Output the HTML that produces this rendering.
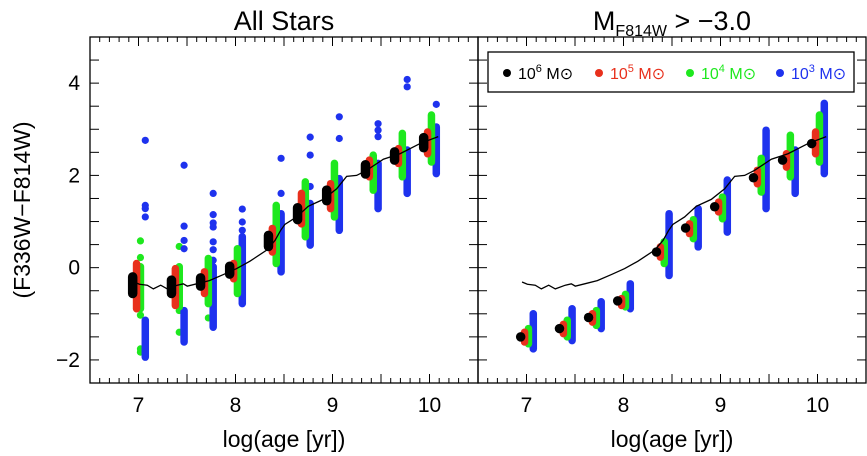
<!DOCTYPE html>
<html><head><meta charset="utf-8"><style>
body{margin:0;background:#fff}
svg{display:block;font-family:"Liberation Sans","DejaVu Sans",sans-serif}
</style></head><body>
<svg id="chart" width="867" height="456" viewBox="0 0 867 456"></svg>
<script>
const ages=[7.0,7.4,7.7,8.0,8.4,8.7,9.0,9.4,9.7,10.0];
const massLabels=["6","5","4","3"];
const massColors=["#000000","#e8301c","#1ee81e","#1e32ee"];
const massOffsets=[-0.06,-0.02,0.02,0.07];
// left panel (All Stars): min/max per mass, per age
const L_black_max=[-0.20,-0.27,-0.22,0.03,0.70,1.30,1.68,2.23,2.51,2.82];
const L_black_min=[-0.56,-0.56,-0.40,-0.14,0.46,1.04,1.45,2.03,2.33,2.60];
const L_red_max=[0.09,-0.02,-0.09,0.09,0.85,1.61,1.82,2.33,2.58,2.94];
const L_red_min=[-0.89,-0.82,-0.56,-0.24,0.34,0.95,1.28,1.97,2.26,2.47];
const L_green_max=[0.02,0.02,0.20,0.41,1.35,1.86,2.26,2.44,2.91,3.31];
const L_green_min=[-0.89,-0.85,-0.78,-0.56,0.09,0.67,1.10,1.68,1.97,2.29];
const L_blue_max=[-1.14,-0.93,0.02,0.67,1.17,1.39,1.93,2.26,2.55,3.05];
const L_blue_min=[-1.94,-1.61,-1.29,-0.78,-0.09,0.49,0.81,1.28,1.61,2.04];
const L_green_out_age=[7.0,7.0,7.0,7.0,7.0,7.4,7.4,7.4,7.7];
const L_green_out_val=[0.58,0.22,-1.03,-1.76,-1.83,0.46,-0.93,-1.40,-1.09];
const L_blue_out_age=[7.0,7.0,7.0,7.0,7.4,7.4,7.4,7.4,7.7,7.7,7.7,7.7,7.7,7.7,7.7,8.0,8.0,8.0,8.4,8.4,8.7,8.7,8.7,9.0,9.0,9.4,9.4,9.4,9.7,9.7,10.0];
const L_blue_out_val=[2.76,1.35,1.28,1.10,2.22,0.90,0.59,0.41,1.61,1.15,0.97,0.88,0.56,0.39,0.16,1.27,0.99,0.81,2.37,1.61,2.83,2.44,1.76,3.27,2.80,3.12,2.98,2.84,4.08,3.92,3.54];
// right panel (M_F814W > -3.0)
const R_black_max=[-1.50,-1.32,-1.08,-0.72,0.34,0.86,1.32,1.95,2.33,2.69];
const R_black_min=[-1.50,-1.32,-1.08,-0.72,0.34,0.86,1.32,1.95,2.33,2.69];
const R_red_max=[-1.40,-1.23,-1.00,-0.67,0.45,0.95,1.42,2.11,2.47,2.94];
const R_red_min=[-1.61,-1.43,-1.18,-0.82,0.23,0.74,1.21,1.82,2.18,2.47];
const R_green_max=[-1.32,-1.14,-0.93,-0.58,0.56,1.04,1.53,2.37,2.87,3.31];
const R_green_min=[-1.65,-1.50,-1.25,-0.85,0.09,0.63,1.06,1.64,1.97,2.29];
const R_blue_max=[-1.00,-0.89,-0.74,-0.35,1.17,1.28,1.90,2.98,2.55,3.56];
const R_blue_min=[-1.76,-1.58,-1.32,-0.89,-0.17,0.45,0.77,1.28,1.61,2.04];
// model line
const lineAge=[6.954,7.009,7.09,7.153,7.229,7.297,7.4,7.462,7.503,7.6,7.73,7.875,8.012,8.149,8.321,8.407,8.466,8.51,8.63,8.75,8.905,9.043,9.146,9.249,9.352,9.524,9.696,9.902,10.09];
const lineVal=[-0.31,-0.36,-0.38,-0.46,-0.38,-0.46,-0.38,-0.35,-0.40,-0.35,-0.28,-0.15,-0.02,0.14,0.38,0.59,0.81,0.94,1.10,1.33,1.48,1.71,1.98,2.00,2.11,2.35,2.47,2.69,2.84];
const xTicks=[7,8,9,10];
const yTicks=[-2,0,2,4];

const NS="http://www.w3.org/2000/svg";
const svg=document.getElementById('chart');
function mk(tag,attrs,parent){const e=document.createElementNS(NS,tag);for(const k in attrs)e.setAttribute(k,attrs[k]);(parent||svg).appendChild(e);return e;}
const TOP=37,BOT=383,W=388;
const yS=v=>TOP+(5-v)*(BOT-TOP)/7.5;
function panel(x0,name,sets,outs,title){
  const xS=a=>x0+(a-6.5)*W/4;
  const g=mk('g',{});
  
  
  // ticks
  for(let i=0;i<=40;i++){const a=6.5+i*0.1;const big=Math.abs(a*2-Math.round(a*2))<1e-6;const L=big?9:5;const X=xS(a);
    mk('line',{x1:X,y1:BOT,x2:X,y2:BOT-L,stroke:'#000','stroke-width':1},g);
    mk('line',{x1:X,y1:TOP,x2:X,y2:TOP+L,stroke:'#000','stroke-width':1},g);}
  for(let i=0;i<=15;i++){const v=-2.5+i*0.5;const Y=yS(v);
    mk('line',{x1:x0,y1:Y,x2:x0+9,y2:Y,stroke:'#000'},g);
    mk('line',{x1:x0+W,y1:Y,x2:x0+W-9,y2:Y,stroke:'#000'},g);}
  xTicks.forEach(t=>{const e=mk('text',{x:xS(t),y:412,'font-size':21,'text-anchor':'middle'},g);e.textContent=t;
    });
  const xt=mk('text',{x:x0+W/2,y:447,'font-size':23,'text-anchor':'middle'},g);xt.textContent='log(age [yr])';
  
  // outliers (drawn under)
  outs.forEach(o=>{o.ages.forEach((a,i)=>{const c=mk('circle',{cx:xS(a+massOffsets[o.m]),cy:yS(o.vals[i]),r:3.6,fill:massColors[o.m]},g);
    });});
  // cluster capsules: blue, green, red, black order
  for(let m=3;m>=0;m--){const s=sets[m];const w=m===0?9.5:7.5;
    ages.forEach((a,i)=>{const X=xS(a+massOffsets[m]);
      const l=mk('line',{x1:X,x2:X,y1:yS(s.max[i]),y2:yS(s.min[i])+0.01,stroke:massColors[m],'stroke-width':w,'stroke-linecap':'round'},g);
      });}
  const pts=lineAge.map((a,i)=>xS(a)+','+yS(lineVal[i])).join(' ');
  const pl=mk('polyline',{points:pts,fill:'none',stroke:'#000','stroke-width':1.3},g);
  
  const fr=mk('rect',{x:x0,y:TOP,width:W,height:BOT-TOP,fill:'none',stroke:'#000','stroke-width':1.3},g);
  
  return xS;
}
panel(90,'left-panel',[
 {max:L_black_max,min:L_black_min},{max:L_red_max,min:L_red_min},{max:L_green_max,min:L_green_min},{max:L_blue_max,min:L_blue_min}],
 [{m:2,ages:L_green_out_age,vals:L_green_out_val},{m:3,ages:L_blue_out_age,vals:L_blue_out_val}]);
panel(478,'right-panel',[
 {max:R_black_max,min:R_black_min},{max:R_red_max,min:R_red_min},{max:R_green_max,min:R_green_min},{max:R_blue_max,min:R_blue_min}],[]);
yTicks.forEach(t=>{const e=mk('text',{x:80,y:yS(t)+7,'font-size':21,'text-anchor':'end'});e.textContent=(t<0?'\u2212':'')+Math.abs(t);
  });
</script>
<svg width="867" height="456" style="position:absolute;left:0;top:0">
<text x="284" y="30" font-size="27" text-anchor="middle" font-family="Liberation Sans, sans-serif">All Stars</text>
<text x="672" y="30" font-size="27" text-anchor="middle" font-family="Liberation Sans, sans-serif">M<tspan font-size="16" dy="6">F814W</tspan><tspan dy="-6"> &gt; −3.0</tspan></text>
<text transform="translate(30,210) rotate(-90)" font-size="23" text-anchor="middle" font-family="Liberation Sans, sans-serif">(F336W−F814W)</text>
<g font-family="Liberation Sans, sans-serif" font-size="16">
<rect x="488" y="52" width="366" height="40" fill="#fff" stroke="#000" stroke-width="1.3"/>
<g><circle cx="507" cy="73" r="4" fill="#000"/><text x="518" y="79" fill="#000">10<tspan font-size="11" dy="-7">6</tspan><tspan dy="7"> M⊙</tspan></text></g>
<g><circle cx="599" cy="73" r="4" fill="#e8301c"/><text x="610" y="79" fill="#e8301c">10<tspan font-size="11" dy="-7">5</tspan><tspan dy="7"> M⊙</tspan></text></g>
<g><circle cx="690" cy="73" r="4" fill="#1ee81e"/><text x="701" y="79" fill="#1ee81e">10<tspan font-size="11" dy="-7">4</tspan><tspan dy="7"> M⊙</tspan></text></g>
<g><circle cx="780" cy="73" r="4" fill="#1e32ee"/><text x="791" y="79" fill="#1e32ee">10<tspan font-size="11" dy="-7">3</tspan><tspan dy="7"> M⊙</tspan></text></g>
</g>
</svg>
</body></html>
